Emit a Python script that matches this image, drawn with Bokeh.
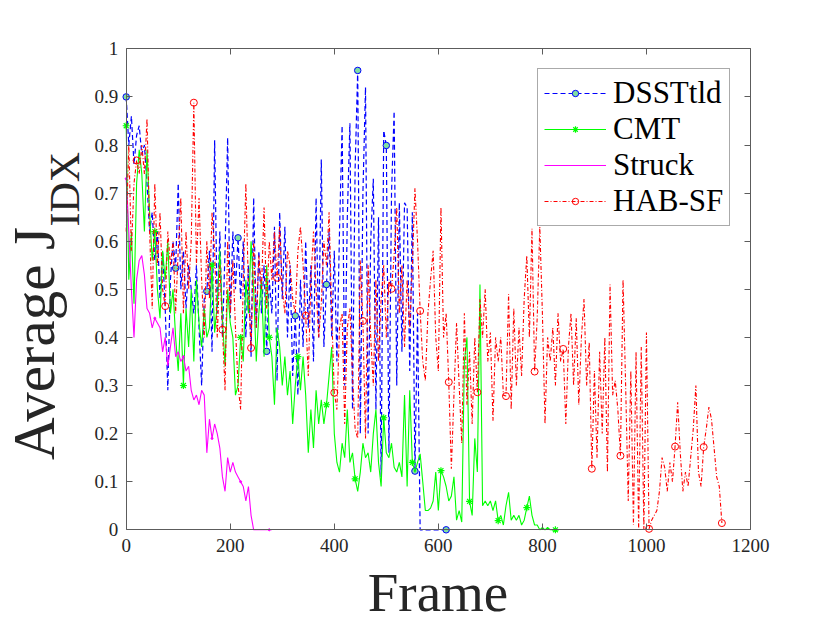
import math
from bokeh.plotting import figure
from bokeh.models import (Range1d, LinearAxis, FixedTicker, CustomJSTickFormatter,
                          Legend, LegendItem, Label, ColumnDataSource)
from bokeh.embed import file_html
from bokeh.resources import INLINE

# ---------------- data (frame step = 5) ----------------
STEP = 5

dsst_values = [
    0.90, 0.80, 0.86, 0.76, 0.82, 0.84, 0.78, 0.80, 0.72, 0.62,
    0.66, 0.56, 0.62, 0.48, 0.58, 0.46, 0.29, 0.52, 0.60, 0.544,
    0.72, 0.50, 0.58, 0.46, 0.55, 0.50, 0.45, 0.55, 0.42, 0.30,
    0.48, 0.496, 0.58, 0.37, 0.81, 0.45, 0.62, 0.40, 0.58, 0.815,
    0.44, 0.62, 0.50, 0.607, 0.48, 0.60, 0.40, 0.55, 0.36, 0.69,
    0.42, 0.58, 0.45, 0.55, 0.371, 0.52, 0.45, 0.63, 0.31, 0.66,
    0.48, 0.63, 0.40, 0.55, 0.32, 0.445, 0.28, 0.52, 0.38, 0.60,
    0.42, 0.55, 0.35, 0.69, 0.40, 0.77, 0.38, 0.51, 0.62, 0.40,
    0.58, 0.35, 0.62, 0.84, 0.30, 0.65, 0.845, 0.25, 0.75, 0.955,
    0.20, 0.70, 0.92, 0.20, 0.60, 0.73, 0.25, 0.65, 0.11, 0.83,
    0.799, 0.16, 0.70, 0.87, 0.30, 0.68, 0.37, 0.68, 0.67, 0.33,
    0.66, 0.122, 0.45, 0.0, 0.0, 0.0, 0.0, 0.0, 0.0, 0.0,
    0.0, 0.0, 0.0, 0.0,
]

cmt_values = [
    0.84, 0.52, 0.62, 0.47, 0.72, 0.79, 0.74, 0.62, 0.79, 0.66,
    0.56, 0.62, 0.50, 0.44, 0.58, 0.52, 0.60, 0.45, 0.50, 0.40,
    0.33, 0.45, 0.30, 0.46, 0.38, 0.50, 0.35, 0.52, 0.43, 0.38,
    0.46, 0.40, 0.42, 0.55, 0.41, 0.47, 0.58, 0.44, 0.34, 0.50,
    0.43, 0.40, 0.28, 0.30, 0.40, 0.35, 0.52, 0.45, 0.60, 0.50,
    0.35, 0.45, 0.52, 0.36, 0.55, 0.40, 0.36, 0.26, 0.42, 0.38,
    0.30, 0.36, 0.28, 0.33, 0.22, 0.30, 0.36, 0.29, 0.36, 0.28,
    0.16, 0.25, 0.17, 0.29, 0.22, 0.27, 0.22, 0.26, 0.32, 0.38,
    0.20, 0.14, 0.12, 0.18, 0.15, 0.25, 0.14, 0.16, 0.106, 0.08,
    0.12, 0.18, 0.15, 0.16, 0.12, 0.20, 0.25, 0.14, 0.09, 0.233,
    0.16, 0.15, 0.18, 0.13, 0.12, 0.14, 0.11, 0.28, 0.09, 0.29,
    0.14, 0.12, 0.14, 0.158, 0.10, 0.04, 0.04, 0.045, 0.06, 0.12,
    0.04, 0.123, 0.11, 0.09, 0.06, 0.07, 0.11, 0.02, 0.04, 0.016,
    0.35, 0.40, 0.059, 0.03, 0.19, 0.12, 0.51, 0.05, 0.06, 0.05,
    0.06, 0.04, 0.06, 0.019, 0.03, 0.01, 0.05, 0.078, 0.02, 0.03,
    0.02, 0.03, 0.01, 0.02, 0.046, 0.07, 0.03, 0.01, 0.01, 0.0,
    0.005, 0.0, 0.005, 0.0, 0.0, 0.0, 0.0,
]

struck_values = [
    0.73, 0.62, 0.50, 0.40, 0.52, 0.56, 0.57, 0.53, 0.46, 0.45,
    0.42, 0.44, 0.43, 0.42, 0.37, 0.40, 0.34, 0.38, 0.42, 0.36,
    0.37, 0.35, 0.36, 0.33, 0.34, 0.29, 0.27, 0.28, 0.26, 0.29,
    0.28, 0.16, 0.23, 0.19, 0.22, 0.20, 0.17, 0.11, 0.08, 0.15,
    0.12, 0.14, 0.12, 0.11, 0.10, 0.09, 0.06, 0.09, 0.03, 0.0,
    0.0, 0.0, 0.0, 0.0, 0.0, 0.0, 0.0,
]

habsf_values = [
    0.62, 0.80, 0.58, 0.72, 0.768, 0.74, 0.80, 0.74, 0.855, 0.62,
    0.46, 0.72, 0.55, 0.66, 0.50, 0.465, 0.62, 0.55, 0.60, 0.45,
    0.58, 0.69, 0.45, 0.62, 0.50, 0.60, 0.888, 0.55, 0.69, 0.52,
    0.40, 0.60, 0.48, 0.66, 0.58, 0.40, 0.55, 0.416, 0.29, 0.60,
    0.45, 0.56, 0.42, 0.30, 0.25, 0.52, 0.72, 0.50, 0.378, 0.60,
    0.42, 0.57, 0.50, 0.67, 0.46, 0.60, 0.52, 0.62, 0.524, 0.63,
    0.50, 0.45, 0.58, 0.55, 0.48, 0.45, 0.58, 0.63, 0.55, 0.445,
    0.32, 0.52, 0.62, 0.50, 0.40, 0.47, 0.60, 0.55, 0.66, 0.45,
    0.285, 0.25, 0.42, 0.45, 0.22, 0.42, 0.46, 0.32, 0.21, 0.19,
    0.56, 0.434, 0.19, 0.55, 0.40, 0.30, 0.52, 0.35, 0.48, 0.55,
    0.40, 0.52, 0.501, 0.57, 0.67, 0.45, 0.55, 0.38, 0.52, 0.42,
    0.55, 0.71, 0.60, 0.455, 0.35, 0.31, 0.45, 0.52, 0.58, 0.40,
    0.33, 0.67, 0.40, 0.45, 0.307, 0.127, 0.28, 0.43, 0.30, 0.18,
    0.45, 0.26, 0.37, 0.22, 0.40, 0.286, 0.48, 0.40, 0.50, 0.35,
    0.41, 0.227, 0.40, 0.35, 0.40, 0.28, 0.278, 0.49, 0.25, 0.46,
    0.30, 0.42, 0.32, 0.48, 0.57, 0.40, 0.626, 0.329, 0.44, 0.63,
    0.45, 0.22, 0.40, 0.35, 0.42, 0.30, 0.45, 0.35, 0.376, 0.22,
    0.38, 0.45, 0.30, 0.44, 0.26, 0.40, 0.48, 0.30, 0.39, 0.127,
    0.33, 0.15, 0.37, 0.20, 0.40, 0.12, 0.51, 0.28, 0.31, 0.25,
    0.154, 0.52, 0.30, 0.06, 0.33, 0.01, 0.37, 0.0, 0.38, 0.0,
    0.41, 0.002, 0.02, 0.03, 0.04, 0.08, 0.15, 0.13, 0.08, 0.14,
    0.10, 0.173, 0.265, 0.16, 0.08, 0.12, 0.09, 0.15, 0.21, 0.30,
    0.12, 0.09, 0.172, 0.21, 0.255, 0.23, 0.17, 0.11, 0.09, 0.014,
]

dsst_marker_frames = [0, 95, 155, 215, 270, 325, 385, 445, 500, 555, 615]
cmt_marker_frames = [0, 55, 110, 165, 220, 275, 330, 385, 440, 495, 550, 605,
                     660, 715, 770, 825]
struck_marker_frames = [0, 55, 110, 165, 220, 275]
habsf_marker_frames = [20, 75, 130, 185, 240, 290, 345, 400, 455, 510, 565, 620,
                       675, 730, 785, 840, 895, 950, 1005, 1055, 1110, 1145]

x_ticks = [0, 200, 400, 600, 800, 1000, 1200]
y_ticks = [0, 0.1, 0.2, 0.3, 0.4, 0.5, 0.6, 0.7, 0.8, 0.9, 1.0]
x_limits = (0, 1200)
y_limits = (0, 1)
series_names = ["DSSTtld", "CMT", "Struck", "HAB-SF"]
x_title = "Frame"
y_title_main = "Average J"
y_title_sub = "IDX"


def frames_of(vals):
    return [i * STEP for i in range(len(vals))]


def marker_source(vals, mframes):
    lookup = dict(zip(frames_of(vals), vals))
    return ColumnDataSource(dict(x=mframes, y=[lookup[f] for f in mframes]))


# ---------------- layout geometry (pixels) ----------------
W, H = 830, 623
AX_L, AX_R, AX_T, AX_B = 125.7, 750.0, 48.3, 529.3   # axes box in pixels
sx = (AX_R - AX_L) / (x_limits[1] - x_limits[0])
sy = (AX_B - AX_T) / (y_limits[1] - y_limits[0])
x_view = Range1d(x_limits[0] - AX_L / sx, x_limits[1] + (W - AX_R) / sx)
y_view = Range1d(y_limits[0] - (H - AX_B) / sy, y_limits[1] + AX_T / sy)

FONT = "Liberation Serif"
AXC = "#5c5c5c"
TXT = "#262626"

p = figure(width=W, height=H, x_range=x_view, y_range=y_view,
           output_backend="svg", toolbar_location=None,
           x_axis_location=None, y_axis_location=None,
           min_border=0, min_border_left=0, min_border_right=0,
           min_border_top=0, min_border_bottom=0)
p.background_fill_color = "white"
p.border_fill_color = "white"
p.outline_line_color = None
p.xgrid.visible = False
p.ygrid.visible = False

l_dsst = p.line(frames_of(dsst_values), dsst_values, line_color="#0000ff",
                line_width=1.2, line_dash="5 3")
m_dsst = p.scatter("x", "y", source=marker_source(dsst_values, dsst_marker_frames),
                   marker="circle", size=6.5, line_color="#0000ff",
                   fill_color="#80e0a0", line_width=1)

l_cmt = p.line(frames_of(cmt_values), cmt_values, line_color="#00ff00", line_width=1.1)
m_cmt = p.scatter("x", "y", source=marker_source(cmt_values, cmt_marker_frames),
                  marker="asterisk", size=7, line_color="#00ff00", line_width=1.2)

l_struck = p.line(frames_of(struck_values), struck_values, line_color="#ff00ff",
                  line_width=1.1)
m_struck = p.scatter("x", "y", source=marker_source(struck_values, struck_marker_frames),
                     marker="circle", size=2, line_color="#ff00ff", fill_color="#ff00ff")

l_hab = p.line(frames_of(habsf_values), habsf_values, line_color="#ff0000",
               line_width=1.1, line_dash="4 2 1 2")
m_hab = p.scatter("x", "y", source=marker_source(habsf_values, habsf_marker_frames),
                  marker="circle", size=7, line_color="#ff0000", fill_color=None,
                  line_width=1)

# ---------------- axes (box style, ticks inward) ----------------
y_fmt = CustomJSTickFormatter(
    code="return (Math.abs(tick) < 1e-9) ? '0' : (Math.abs(tick-1) < 1e-9 ? '1' : tick.toFixed(1));")
blank = CustomJSTickFormatter(code="return '';")

bottom_axis = LinearAxis(ticker=FixedTicker(ticks=x_ticks), bounds=x_limits,
                         fixed_location=y_limits[0])
left_axis = LinearAxis(ticker=FixedTicker(ticks=y_ticks), bounds=y_limits,
                       fixed_location=x_limits[0], formatter=y_fmt)
top_axis = LinearAxis(ticker=FixedTicker(ticks=x_ticks), bounds=x_limits,
                      fixed_location=y_limits[1], formatter=blank)
right_axis = LinearAxis(ticker=FixedTicker(ticks=y_ticks), bounds=y_limits,
                        fixed_location=x_limits[1], formatter=blank)
p.add_layout(bottom_axis, "below")
p.add_layout(left_axis, "left")
p.add_layout(top_axis, "above")
p.add_layout(right_axis, "right")

for ax in [bottom_axis, left_axis, top_axis, right_axis]:
    ax.axis_line_color = AXC
    ax.axis_line_width = 1
    ax.major_tick_line_color = AXC
    ax.major_tick_in = 6
    ax.major_tick_out = 0
    ax.minor_tick_line_color = None
    ax.major_label_text_font = FONT
    ax.major_label_text_font_size = "19px"
    ax.major_label_text_color = TXT
bottom_axis.major_label_standoff = 9
left_axis.major_label_standoff = 8

# ---------------- legend (added before the text labels) ----------------
legend = Legend(items=[
    LegendItem(label=series_names[0], renderers=[l_dsst, m_dsst]),
    LegendItem(label=series_names[1], renderers=[l_cmt, m_cmt]),
    LegendItem(label=series_names[2], renderers=[l_struck]),
    LegendItem(label=series_names[3], renderers=[l_hab, m_hab]),
], location=(537, 397))
legend.label_text_font = FONT
legend.label_text_font_size = "31px"
legend.label_text_color = "black"
legend.glyph_width = 62
legend.glyph_height = 16
legend.label_height = 30
legend.label_standoff = 7
legend.spacing = 0
legend.padding = 6
legend.border_line_color = "#555555"
legend.border_line_width = 1
legend.background_fill_color = "white"
legend.background_fill_alpha = 1
p.add_layout(legend, "center")

# ---------------- axis titles (screen px from bottom-left of canvas) ----------------
p.add_layout(Label(x=437.5, y=62, x_units="screen", y_units="screen", text=x_title,
                   text_font=FONT, text_font_size="55px", text_color=TXT,
                   text_align="center", text_baseline="top"))
p.add_layout(Label(x=66, y=280, x_units="screen", y_units="screen", text=y_title_main,
                   text_font=FONT, text_font_size="59px", text_color=TXT,
                   text_align="center", text_baseline="bottom",
                   angle=math.pi / 2))
p.add_layout(Label(x=87, y=397, x_units="screen", y_units="screen", text=y_title_sub,
                   text_font=FONT, text_font_size="42px", text_color=TXT,
                   text_align="left", text_baseline="bottom",
                   angle=math.pi / 2))

open("out.html", "w").write(file_html(p, INLINE))
